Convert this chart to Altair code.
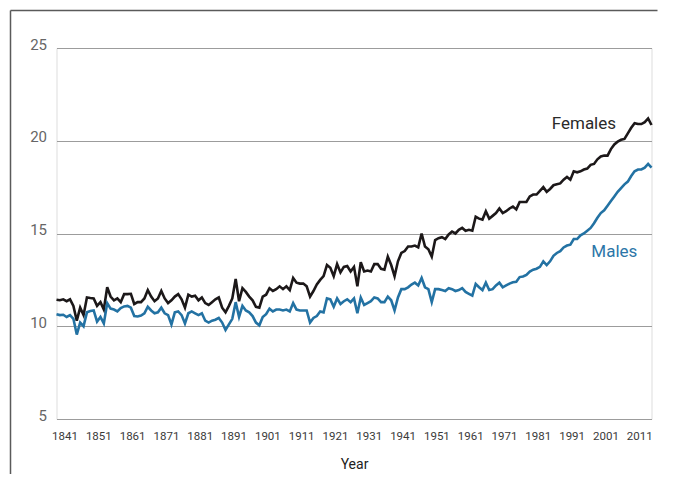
import altair as alt
import pandas as pd

years = list(range(1841, 2018))

females = [
    11.43, 11.40, 11.45, 11.35, 11.45, 11.10, 10.30, 11.00, 10.60, 11.55,
    11.52, 11.50, 11.10, 11.30, 10.90, 12.10, 11.60, 11.40, 11.50, 11.30,
    11.73, 11.73, 11.75, 11.20, 11.30, 11.30, 11.50, 11.95, 11.60, 11.35,
    11.50, 11.90, 11.50, 11.25, 11.40, 11.60, 11.73, 11.45, 11.00, 11.70,
    11.60, 11.65, 11.40, 11.55, 11.25, 11.15, 11.30, 11.45, 11.55, 11.00,
    10.75, 11.10, 11.50, 12.55, 11.35, 12.05, 11.85, 11.60, 11.40, 11.05,
    11.00, 11.60, 11.70, 12.05, 11.90, 12.00, 12.15, 12.00, 12.15, 11.95,
    12.60, 12.35, 12.30, 12.30, 12.15, 11.60, 11.90, 12.25, 12.50, 12.70,
    13.30, 13.15, 12.70, 13.35, 12.90, 13.20, 13.25, 12.95, 13.20, 12.15,
    13.45, 12.95, 13.00, 12.95, 13.35, 13.35, 13.10, 13.05, 13.75, 13.30,
    12.70, 13.50, 13.95, 14.05, 14.30, 14.30, 14.35, 14.25, 15.00, 14.30,
    14.15, 13.75, 14.65, 14.75, 14.80, 14.70, 14.95, 15.10, 15.00, 15.20,
    15.30, 15.15, 15.20, 15.15, 15.90, 15.80, 15.75, 16.20, 15.80, 15.95,
    16.10, 16.35, 16.10, 16.20, 16.35, 16.45, 16.30, 16.70, 16.70, 16.70,
    17.00, 17.10, 17.10, 17.30, 17.50, 17.25, 17.40, 17.60, 17.65, 17.70,
    17.90, 18.05, 17.90, 18.35, 18.30, 18.35, 18.45, 18.50, 18.70, 18.75,
    19.00, 19.15, 19.20, 19.20, 19.55, 19.80, 19.95, 20.05, 20.10, 20.40,
    20.70, 20.95, 20.90, 20.90, 21.00, 21.20, 20.85,
]

males = [
    10.65, 10.60, 10.62, 10.50, 10.60, 10.40, 9.55, 10.20, 10.00, 10.75,
    10.82, 10.85, 10.25, 10.50, 10.15, 11.25, 10.95, 10.90, 10.80, 10.98,
    11.07, 11.10, 11.00, 10.55, 10.53, 10.58, 10.70, 11.05, 10.85, 10.70,
    10.75, 11.00, 10.70, 10.60, 10.10, 10.75, 10.80, 10.60, 10.15, 10.70,
    10.80, 10.70, 10.60, 10.70, 10.30, 10.20, 10.30, 10.35, 10.45, 10.20,
    9.80, 10.10, 10.40, 11.30, 10.50, 11.10, 10.85, 10.75, 10.55, 10.20,
    10.05, 10.50, 10.65, 10.95, 10.80, 10.90, 10.90, 10.85, 10.90, 10.80,
    11.25, 10.90, 10.85, 10.85, 10.85, 10.20, 10.45, 10.55, 10.80, 10.75,
    11.50, 11.45, 11.05, 11.50, 11.20, 11.35, 11.45, 11.30, 11.50, 10.70,
    11.55, 11.15, 11.25, 11.35, 11.55, 11.50, 11.30, 11.30, 11.60, 11.40,
    10.85, 11.55, 12.00, 12.00, 12.10, 12.25, 12.35, 12.20, 12.60, 12.10,
    12.00, 11.30, 12.00, 12.00, 11.95, 11.90, 12.05, 12.00, 11.90, 11.95,
    12.05, 11.85, 11.75, 11.65, 12.28, 12.10, 11.95, 12.35, 11.95, 12.00,
    12.20, 12.35, 12.10, 12.20, 12.30, 12.37, 12.40, 12.65, 12.68, 12.77,
    12.95, 13.05, 13.10, 13.20, 13.50, 13.30, 13.50, 13.80, 13.95, 14.05,
    14.25, 14.35, 14.40, 14.70, 14.70, 14.90, 15.00, 15.15, 15.30, 15.55,
    15.85, 16.10, 16.25, 16.50, 16.75, 17.00, 17.25, 17.45, 17.65, 17.80,
    18.10, 18.35, 18.45, 18.45, 18.55, 18.75, 18.55,
]

series_names = ["Females", "Males"]
series_colors = ["#1c1819", "#2372a3"]
year_ticks = list(range(1841, 2012, 10))
value_ticks = [5, 10, 15, 20, 25]

df = pd.DataFrame({
    "Year": years * 2,
    "Value": females + males,
    "Sex": ["Females"] * len(years) + ["Males"] * len(years),
})
ticks_df = pd.DataFrame({"Year": year_ticks, "Label": [str(y) for y in year_ticks]})
one_row = pd.DataFrame({"k": [0]})

FONT = "Roboto"
W, H = 595, 371

x_scale = alt.Scale(domain=[1841, 2017], nice=False, zero=False)
y_scale = alt.Scale(domain=[5, 25], nice=False, zero=False)

lines = alt.Chart(df).mark_line(strokeWidth=2.6, strokeJoin="miter").encode(
    x=alt.X("Year:Q", scale=x_scale,
            axis=alt.Axis(values=year_ticks, grid=False, ticks=False,
                          domain=False, labels=False,
                          title="Year", titleFont=FONT, titleFontSize=14,
                          titleFontWeight="normal", titleColor="#222",
                          titlePadding=38)),
    y=alt.Y("Value:Q", scale=y_scale,
            axis=alt.Axis(values=value_ticks, grid=True, gridColor="#9c9c9c",
                          gridWidth=1.2, ticks=False, domain=False,
                          labelFont=FONT, labelFontSize=15, labelColor="#666666",
                          labelPadding=10, labelOffset=-4, title=None)),
    color=alt.Color("Sex:N", scale=alt.Scale(domain=series_names, range=series_colors),
                    legend=None),
    detail="Sex:N",
)

year_labels = alt.Chart(ticks_df).mark_text(
    font=FONT, fontSize=11.5, color="#3a3a3a", align="center", baseline="middle",
    dx=8.5).encode(
    x=alt.X("Year:Q", scale=x_scale),
    y=alt.value(H + 18),
    text="Label:N",
)

fem_label = alt.Chart().mark_text(
    text="Females", font=FONT, fontSize=17, color="#2a2a2a", align="center",
    baseline="middle").encode(x=alt.datum(1997), y=alt.datum(20.9))

male_label = alt.Chart().mark_text(
    text="Males", font=FONT, fontSize=17, color="#2c76a8", align="center",
    baseline="middle").encode(x=alt.datum(2006), y=alt.datum(14.0))

frame_left = alt.Chart(one_row).mark_rule(color="#5a5a5a", strokeWidth=1.5).encode(
    x=alt.value(-46), y=alt.value(-37.5), y2=alt.value(H + 55))
frame_top = alt.Chart(one_row).mark_rule(color="#5a5a5a", strokeWidth=1.5).encode(
    y=alt.value(-37.5), x=alt.value(-46), x2=alt.value(W + 6))

chart = alt.layer(lines, year_labels, fem_label, male_label,
                  frame_left, frame_top).properties(
    width=W, height=H,
    autosize=alt.AutoSizeParams(type="none"),
    padding={"left": 48.5, "top": 40, "right": 12, "bottom": 60},
).configure_view(stroke=None).configure(background="white")

chart.save("out.html", embed_options={"renderer": "svg", "actions": False})
